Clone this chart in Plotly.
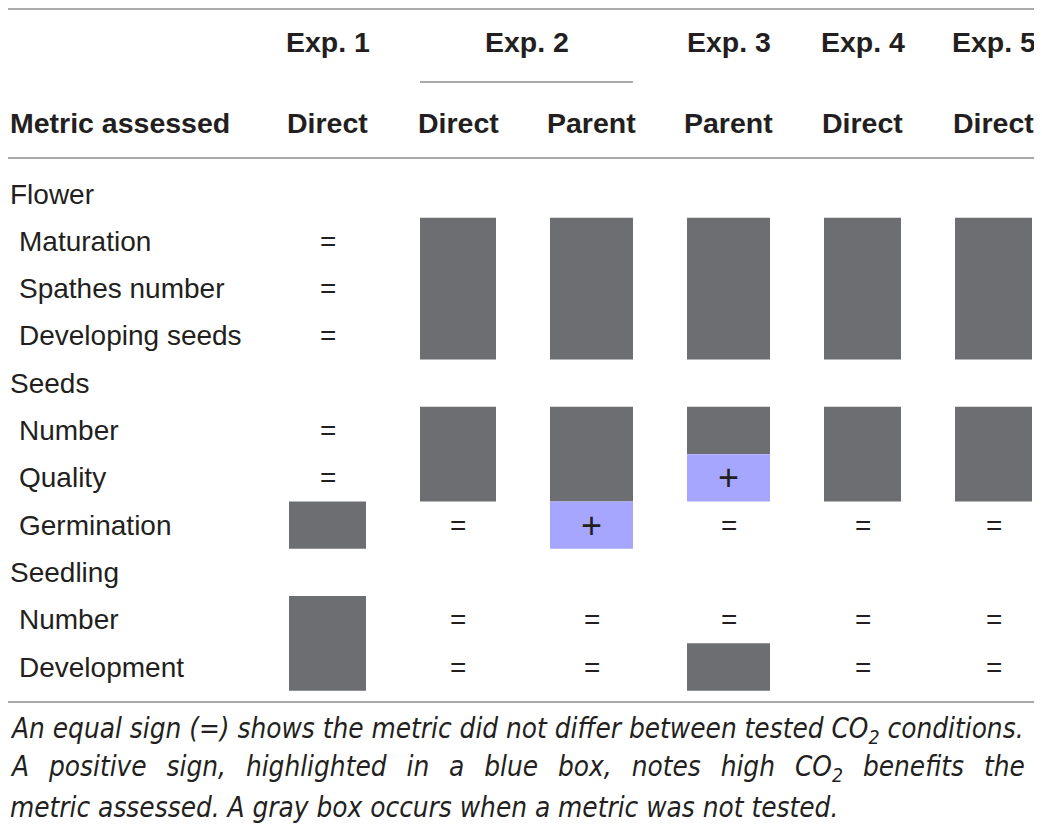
import plotly.graph_objects as go

# ---- table content ----
exp_labels = ["Exp. 1", "Exp. 2", "Exp. 3", "Exp. 4", "Exp. 5"]
exp_span = [[0], [1, 2], [3], [4], [5]]          # which sub-columns each experiment covers
sub_labels = ["Direct", "Direct", "Parent", "Parent", "Direct", "Direct"]
stub_title = "Metric assessed"

row_labels = ["Flower", "Maturation", "Spathes number", "Developing seeds",
              "Seeds", "Number", "Quality", "Germination",
              "Seedling", "Number", "Development"]
row_is_group = [True, False, False, False, True, False, False, False, True, False, False]

# cell codes: "=" no difference, "+" high CO2 benefit (blue), "g" not tested (gray), "" empty
cells = [
    ["", "", "", "", "", ""],
    ["=", "g", "g", "g", "g", "g"],
    ["=", "g", "g", "g", "g", "g"],
    ["=", "g", "g", "g", "g", "g"],
    ["", "", "", "", "", ""],
    ["=", "g", "g", "g", "g", "g"],
    ["=", "g", "g", "+", "g", "g"],
    ["g", "=", "+", "=", "=", "="],
    ["", "", "", "", "", ""],
    ["g", "=", "=", "=", "=", "="],
    ["g", "=", "=", "g", "=", "="],
]

footnote = [
    "An equal sign (=) shows the metric did not differ between tested CO<sub>2</sub> conditions.",
    "A positive sign, highlighted in a blue box, notes high CO<sub>2</sub> benefits the",
    "metric assessed. A gray box occurs when a metric was not tested.",
]
footnote_wordspace = [0, 12, 0]   # line 2 is justified in the source

# ---- layout / style ----
W, H = 1042, 826
OFF = 8          # page body margin
col_x = [327.5, 458, 591.5, 728.5, 862.5, 993.5]
col_half = [38.5, 38, 41.5, 41.5, 38.5, 38.5]
pitch = 47.3
first_row_px = 194


def ry(px):
    # pixel row -> y units (row index)
    return (px - first_row_px) / pitch


gray = "#6d6e71"
blue = "#a6a6ff"
ink = "#231f20"
rule = "#8e8e8e"
font = "Liberation Sans, Arial, sans-serif"
fs = 28
fs_b = 28.5

fig = go.Figure()
shapes = []
annotations = []

# gray/blue boxes: merge vertical runs so no seams appear
ncol = len(sub_labels)
for j in range(ncol):
    i = 0
    while i < len(cells):
        c = cells[i][j]
        if c in ("g", "+"):
            k = i
            while k + 1 < len(cells) and cells[k + 1][j] == c:
                k += 1
            shapes.append(dict(type="rect", xref="x", yref="y",
                               x0=col_x[j] - col_half[j], x1=col_x[j] + col_half[j],
                               y0=i - 0.5, y1=k + 0.5,
                               fillcolor=gray if c == "g" else blue,
                               line=dict(width=0), layer="below"))
            i = k + 1
        else:
            i += 1

# symbols
for i, row in enumerate(cells):
    for j, c in enumerate(row):
        if c in ("=", "+"):
            annotations.append(dict(x=col_x[j], y=i, text=c, showarrow=False,
                                    xanchor="center", yanchor="middle",
                                    font=dict(family=font, size=fs if c == "=" else 36,
                                              color=ink)))

# row labels
for i, (lab, grp) in enumerate(zip(row_labels, row_is_group)):
    annotations.append(dict(x=8 if grp else 17, y=i, text=lab, showarrow=False,
                            xanchor="left", yanchor="middle",
                            font=dict(family=font, size=fs, color=ink)))

# header
for lab, span in zip(exp_labels, exp_span):
    cx = (col_x[span[0]] - col_half[span[0]] + col_x[span[-1]] + col_half[span[-1]]) / 2
    annotations.append(dict(x=cx, y=ry(42), text="<b>%s</b>" % lab, showarrow=False,
                            xanchor="center", yanchor="middle",
                            font=dict(family=font, size=fs_b, color=ink)))
    if len(span) > 1:
        shapes.append(dict(type="line", xref="x", yref="y",
                           x0=col_x[span[0]] - col_half[span[0]],
                           x1=col_x[span[-1]] + col_half[span[-1]],
                           y0=ry(82), y1=ry(82), line=dict(color=rule, width=1.5)))
for j, lab in enumerate(sub_labels):
    annotations.append(dict(x=col_x[j], y=ry(123), text="<b>%s</b>" % lab, showarrow=False,
                            xanchor="center", yanchor="middle",
                            font=dict(family=font, size=fs_b, color=ink)))
annotations.append(dict(x=8, y=ry(123), text="<b>%s</b>" % stub_title, showarrow=False,
                        xanchor="left", yanchor="middle",
                        font=dict(family=font, size=fs_b, color=ink)))

# horizontal rules (top one kept just inside the visible area)
for py in (OFF + 1, 158, 702):
    shapes.append(dict(type="line", xref="x", yref="y", x0=6, x1=1036,
                       y0=ry(py), y1=ry(py), line=dict(color=rule, width=1.5)))

# footnote
for k, line in enumerate(footnote):
    txt = line
    if footnote_wordspace[k]:
        txt = '<span style="word-spacing:%dpx">%s</span>' % (footnote_wordspace[k], line)
    annotations.append(dict(x=8, y=ry(730 + 38.5 * k), text="<i>%s</i>" % txt,
                            showarrow=False, xanchor="left", yanchor="middle",
                            font=dict(family="Liberation Sans Narrow, DejaVu Sans Condensed, sans-serif",
                                      size=27.7, color=ink)))

fig.update_layout(
    width=W - OFF, height=H - OFF,
    margin=dict(l=0, r=0, t=0, b=0),
    paper_bgcolor="white", plot_bgcolor="white",
    xaxis=dict(range=[OFF, W], visible=False, fixedrange=True),
    yaxis=dict(range=[ry(H), ry(OFF)], visible=False, fixedrange=True),
    shapes=shapes, annotations=annotations, showlegend=False,
)

fig.write_html("out.html")
